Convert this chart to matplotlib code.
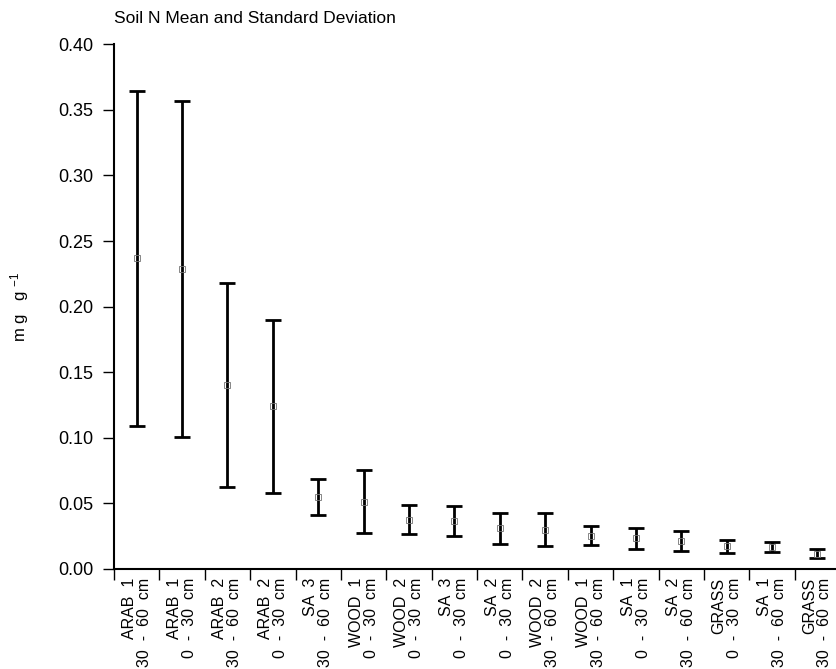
import matplotlib
matplotlib.use("Agg")
from matplotlib import pyplot as plt
from matplotlib.ticker import FixedLocator

plt.rcParams['font.family'] = ['Liberation Sans', 'DejaVu Sans']
plt.rcParams['mathtext.default'] = 'regular'

# sites and depths, in plotted order
sites = ["ARAB  1", "ARAB  1", "ARAB  2", "ARAB  2", "SA  3", "WOOD  1", "WOOD  2", "SA  3",
         "SA  2", "WOOD  2", "WOOD  1", "SA  1", "SA  2", "GRASS", "SA  1", "GRASS"]
depths = ["30  -  60  cm", "0  -  30  cm", "30  -  60  cm", "0  -  30  cm", "30  -  60  cm",
          "0  -  30  cm", "0  -  30  cm", "0  -  30  cm", "0  -  30  cm", "30  -  60  cm",
          "30  -  60  cm", "0  -  30  cm", "30  -  60  cm", "0  -  30  cm", "30  -  60  cm",
          "30  -  60  cm"]
# mean and standard deviation (mg g-1)
means = [0.2367, 0.2288, 0.1402, 0.1240, 0.0546, 0.0513, 0.0374, 0.0366,
         0.0309, 0.0299, 0.0254, 0.0235, 0.0212, 0.0173, 0.0167, 0.0117]
sds = [0.1277, 0.1279, 0.0775, 0.0658, 0.0137, 0.0241, 0.0110, 0.0112,
       0.0120, 0.0126, 0.0074, 0.0080, 0.0075, 0.0049, 0.0037, 0.0033]

labels = ["{}\n{}".format(s, d) for s, d in zip(sites, depths)]
x = list(range(len(means)))

fig = plt.figure(figsize=(8.36, 6.69), dpi=100)
ax = fig.add_axes([0.1364, 0.1495, 0.8636, 0.7843])

ax.errorbar(x, means, yerr=sds, fmt='none', ecolor='black', elinewidth=2,
            capsize=6, capthick=2)
ax.plot(x, means, linestyle='none', marker='s', ms=4, mfc='none',
        mec='0.45', mew=0.6)

ax.set_xlim(-0.5, 15.41)
ax.set_ylim(0, 0.40)
ax.set_yticks([0, 0.05, 0.10, 0.15, 0.20, 0.25, 0.30, 0.35, 0.40])
ax.set_yticklabels(["{:.2f}".format(v) for v in ax.get_yticks()])

ax.set_xticks(x)
ax.set_xticklabels(labels, rotation=90, fontsize=11.5, ha='center', va='top',
                   multialignment='right', linespacing=1.0)
ax.xaxis.set_minor_locator(FixedLocator([i - 0.5 for i in range(len(means) + 1)]))
ax.tick_params(axis='x', which='major', length=0, pad=6.5)
ax.tick_params(axis='x', which='minor', length=8, width=1, direction='out')
ax.tick_params(axis='y', length=8, width=1, direction='out', pad=7, labelsize=13)

for side in ['top', 'right']:
    ax.spines[side].set_visible(False)
ax.spines['left'].set_linewidth(1.5)
ax.spines['bottom'].set_linewidth(1.5)

ax.set_ylabel("m g   g $^{- 1}$", fontsize=12)
ax.yaxis.set_label_coords(-0.115, 0.5)
ax.set_title("Soil N Mean and Standard Deviation", loc='left', fontsize=12.5, pad=15)

fig.savefig("out.png", dpi=100)
